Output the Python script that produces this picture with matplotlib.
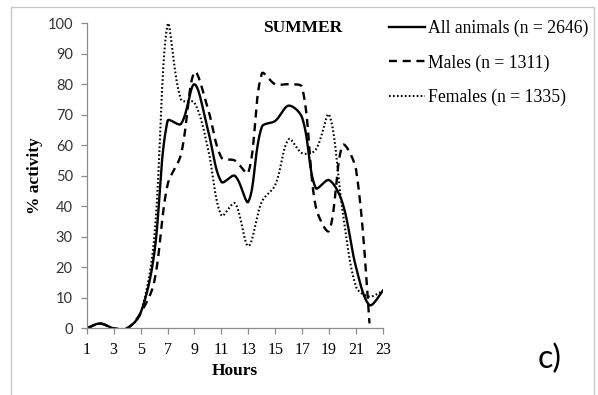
import numpy as np
import matplotlib
matplotlib.use('Agg')
import matplotlib.pyplot as plt
from matplotlib.patches import Rectangle

# ---------------- data ----------------
hours = list(range(1, 24))
all_animals = [0, 1.6, 0, 0, 5, 24, 68, 67, 80, 65, 48, 50, 41.5, 66, 68, 73, 69, 46, 48.6, 41, 20, 7.6, 12.4]
males = [0, 1.5, 0, 0, 5, 15, 47, 57, 84, 72, 56, 55, 51, 83.5, 80, 80, 79, 40, 32, 60, 52, 1.6, np.nan]
females = [0, 1.5, 0, 0, 5, 29, 99.5, 75, 74, 59, 37, 41, 27, 41.5, 47, 62, 57.4, 58.5, 70, 38.5, 13.6, 10.4, 12.4]
series_labels = ['All animals (n = 2646)', 'Males (n = 1311)', 'Females (n = 1335)']
x_ticks = list(range(1, 24, 2))
y_ticks = list(range(0, 101, 10))
title_text = 'SUMMER'
x_label = 'Hours'
y_label = '% activity'
panel_label = 'c)'

W, H = 598, 395
AX_L, AX_R, AX_T, AX_B = 86.7, 383.0, 23.3, 328.3
SX = (AX_R - AX_L) / (23 - 1)      # px per hour
SY = (AX_B - AX_T) / 100.0         # px per % unit


def smooth(x, y, n=30):
    """Excel-like smoothed line: Bezier through the points, tangents scaled by
    neighbouring chord lengths (computed in screen space)."""
    x = np.asarray(x, float)
    y = np.asarray(y, float)
    ok = np.isfinite(y)
    P = np.column_stack([x[ok] * SX, y[ok] * SY])
    Pe = np.vstack([P[0], P, P[-1]])
    t = np.linspace(0, 1, n)[:, None]
    out = []
    for i in range(len(P) - 1):
        p0, p1, p2, p3 = Pe[i], Pe[i + 1], Pe[i + 2], Pe[i + 3]
        d01 = np.hypot(*(p1 - p0))
        d12 = np.hypot(*(p2 - p1))
        d23 = np.hypot(*(p3 - p2))
        f1 = d12 / (d01 + d12) / 3.0 if d01 > 0 else 1 / 6.0
        f2 = d12 / (d12 + d23) / 3.0 if d23 > 0 else 1 / 6.0
        c1 = p1 + (p2 - p0) * f1
        c2 = p2 - (p3 - p1) * f2
        seg = (1 - t) ** 3 * p1 + 3 * (1 - t) ** 2 * t * c1 + 3 * (1 - t) * t ** 2 * c2 + t ** 3 * p2
        out.append(seg if i == 0 else seg[1:])
    s = np.vstack(out)
    return s[:, 0] / SX, s[:, 1] / SY


fig = plt.figure(figsize=(W / 100, H / 100), dpi=100)
fig.patches.append(Rectangle((11 / W, -0.05), (594 - 11) / W, 1.05 - 7 / H,
                             transform=fig.transFigure, fill=False,
                             edgecolor='#c8c8c8', linewidth=1.0))

ax = fig.add_axes([AX_L / W, 1 - AX_B / H, (AX_R - AX_L) / W, (AX_B - AX_T) / H])

styles = [
    dict(lw=1.7, ls='-'),
    dict(lw=1.7, ls=(0, (3.4, 2.4))),
    dict(lw=1.5, ls=(0, (0.8, 1.1))),
]
handles = []
for data, st, lab in zip([all_animals, males, females], styles, series_labels):
    xs, ys = smooth(hours, data)
    ln, = ax.plot(xs, ys, color='black', lw=st['lw'], ls=st['ls'], label=lab)
    handles.append(ln)

ax.set_xlim(1, 23)
ax.set_ylim(0, 100)
ax.set_xticks(x_ticks)
ax.set_yticks(y_ticks)
for s in ['top', 'right']:
    ax.spines[s].set_visible(False)
for s in ['left', 'bottom']:
    ax.spines[s].set_color('#8c8c8c')
    ax.spines[s].set_linewidth(0.9)
ax.tick_params(axis='both', direction='out', color='#8c8c8c', length=4, width=0.9)
ax.tick_params(axis='y', pad=6, labelsize=10.5, labelcolor='#333333')
ax.tick_params(axis='x', pad=6, labelsize=11.5, labelcolor='black')
for lbl in ax.get_yticklabels():
    lbl.set_family('Lato')
for lbl in ax.get_xticklabels():
    lbl.set_family('Liberation Serif')

fig.text(235 / W, 1 - 371 / H, x_label, family='Liberation Serif', fontweight='bold',
         fontsize=12.5, ha='center', va='center')
fig.text(35 / W, 1 - 176 / H, y_label, family='Liberation Serif', fontweight='bold',
         fontsize=12.5, ha='center', va='center', rotation=90)
fig.text(303 / W, 1 - 28 / H, title_text, family='Liberation Serif', fontweight='bold',
         fontsize=12.5, ha='center', va='center')
fig.text(550 / W, 1 - 359 / H, panel_label, family='Lato', fontsize=23,
         ha='center', va='center')

leg = fig.legend(handles=handles, labels=series_labels, loc='upper left',
                 bbox_to_anchor=(389 / W, 1 - 20 / H), frameon=False,
                 prop={'family': 'Liberation Serif', 'size': 12.7},
                 handlelength=2.05, handletextpad=0.15, labelspacing=0.97,
                 borderpad=0, borderaxespad=0)

fig.savefig('out.png', dpi=100)
